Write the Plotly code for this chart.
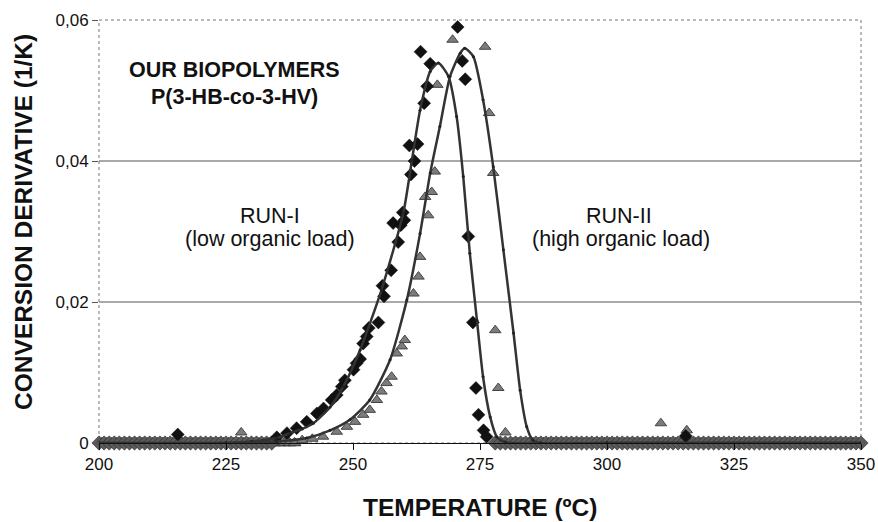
import plotly.graph_objects as go

# ---------------- data ----------------
# RUN-I experimental points (diamonds) in the peak region
RUN1_T = [235.0, 237.0, 238.9, 240.9, 242.9, 244.2, 245.8, 246.8, 247.8, 248.4, 250.1, 250.7,
          251.4, 252.0, 252.7, 253.1, 255.0, 255.8, 256.1, 257.5, 257.9, 258.9, 259.4,
          259.8, 260.1, 261.1, 261.4, 262.1, 262.7, 263.3, 264.0, 264.6, 265.2, 270.6,
          271.5, 272.1, 272.7, 273.6, 274.2, 274.7, 275.7, 276.3]
RUN1_V = [0.0008, 0.0014, 0.0021, 0.0030, 0.0042, 0.0049, 0.0061, 0.0068, 0.0080, 0.0089, 0.0104, 0.0113,
          0.0119, 0.0141, 0.0151, 0.0163, 0.0171, 0.0223, 0.0208, 0.0245, 0.0312, 0.0285, 0.0309,
          0.0327, 0.0316, 0.0422, 0.0381, 0.0400, 0.0424, 0.0555, 0.0482, 0.0506, 0.0538, 0.0590,
          0.0542, 0.0516, 0.0293, 0.0171, 0.0078, 0.0040, 0.0018, 0.0009]

# RUN-II experimental points (triangles) in the peak region
RUN2_T = [240.0, 242.0, 244.1, 246.8, 248.8, 250.4, 252.0, 253.3, 254.7, 255.6, 256.6, 257.6, 258.6,
          259.6, 260.2, 261.9, 262.9, 263.2, 264.2, 264.8, 265.5, 266.1, 266.6, 269.6,
          276.0, 276.8, 277.6, 278.0, 278.6, 280.0]
RUN2_V = [0.0004, 0.0006, 0.0009, 0.0016, 0.0023, 0.0030, 0.0040, 0.0047, 0.0061, 0.0073, 0.0085, 0.0094, 0.0127,
          0.0137, 0.0146, 0.0212, 0.0236, 0.0264, 0.0349, 0.0323, 0.0356, 0.0385, 0.0508, 0.0572,
          0.0562, 0.0468, 0.0383, 0.0160, 0.0078, 0.0015]

# baseline points (both runs sit on zero outside the peak)
BASE1_T = [t for t in range(200, 351) if t < 235 or t > 277]
BASE1_V = [0.0] * len(BASE1_T)
BASE2_T = [t + 0.5 for t in range(200, 350) if t < 239 or t > 280]
BASE2_V = [0.0] * len(BASE2_T)

# isolated small bumps on the baseline
BUMP1_T = [215.5, 315.5]
BUMP1_V = [0.0012, 0.0010]
BUMP2_T = [228.0, 310.6, 315.7]
BUMP2_V = [0.0015, 0.0028, 0.0018]

# model (fitted) curves
FIT1_T = [200, 225, 230, 235, 237.6, 240, 242.2, 245.5, 248.1, 251.4, 255.6, 259.9, 261.6, 263.2,
          265.2, 266.8, 268.8, 270.4, 271.7, 273.0, 274.4, 275.6, 277.0, 278.3, 280, 300, 350]
FIT1_V = [0, 0, 0.0002, 0.0007, 0.0014, 0.0020, 0.0028, 0.0051, 0.0080, 0.0132, 0.0217, 0.0326, 0.0401,
          0.0472, 0.0527, 0.0539, 0.0520, 0.0463, 0.0378, 0.0269, 0.0174, 0.0094, 0.0037, 0.0009,
          0.0001, 0, 0]
FIT2_T = [200, 225, 235, 240.9, 245.5, 249.4, 253.3, 257.3, 260.6, 263.2, 265.2, 267.1, 269.1, 271.1,
          272.0, 273.7, 275.6, 277.6, 279.6, 281.6, 282.9, 284.2, 285.4, 287, 300, 350]
FIT2_V = [0, 0, 0.0002, 0.0007, 0.0018, 0.0033, 0.0061, 0.0118, 0.0203, 0.0297, 0.0383, 0.0449, 0.0520,
          0.0553, 0.0560, 0.0548, 0.0487, 0.0392, 0.0274, 0.0156, 0.0075, 0.0023, 0.0004, 0, 0, 0]

X_TICKS = [200, 225, 250, 275, 300, 325, 350]
Y_TICKS = [0, 0.02, 0.04, 0.06]
Y_TICK_TEXT = ["0", "0,02", "0,04", "0,06"]
GRID_Y = [0.02, 0.04]

FONT = "Liberation Sans, Arial, sans-serif"

fig = go.Figure()

tri_style = dict(symbol="triangle-up", size=10, color="#7c7c7c", line=dict(color="#444444", width=1))
dia_style = dict(symbol="diamond", size=10, color="#111111", line=dict(color="#111111", width=0.5))

fig.add_trace(go.Scatter(x=BASE2_T, y=BASE2_V, mode="markers",
                         marker=dict(symbol="triangle-up", size=11, color="#777777", line=dict(color="#333", width=1)),
                         cliponaxis=False, showlegend=False))
fig.add_trace(go.Scatter(x=BASE1_T, y=BASE1_V, mode="markers",
                         marker=dict(symbol="diamond", size=11, color="#5a5a5a", line=dict(color="#222", width=0.5)),
                         cliponaxis=False, showlegend=False))
fig.add_trace(go.Scatter(x=RUN2_T + BUMP2_T, y=RUN2_V + BUMP2_V, mode="markers", marker=tri_style,
                         cliponaxis=False, showlegend=False))
fig.add_trace(go.Scatter(x=RUN1_T + BUMP1_T, y=RUN1_V + BUMP1_V, mode="markers", marker=dia_style,
                         cliponaxis=False, showlegend=False))

for T, V in [(FIT1_T, FIT1_V), (FIT2_T, FIT2_V)]:
    fig.add_trace(go.Scatter(x=T, y=V, mode="lines+markers",
                             line=dict(color="#333333", width=2.5, shape="spline", smoothing=0.6),
                             marker=dict(size=3, color="#222222"),
                             cliponaxis=True, showlegend=False))

shapes = []
for g in GRID_Y:
    shapes.append(dict(type="line", xref="paper", yref="y", x0=0, x1=1, y0=g, y1=g,
                       line=dict(color="#555555", width=1), layer="below"))
shapes.append(dict(type="rect", xref="paper", yref="paper", x0=0, x1=1, y0=0, y1=1,
                   line=dict(color="#777777", width=1, dash="dot"), layer="below"))

def px2T(px):
    return 200 + (px - 99) / 5.08

def py2V(py):
    return (443 - py) / 7050.0

annotations = [
    dict(x=px2T(234), y=py2V(70), text="<b>OUR BIOPOLYMERS</b>", xanchor="center", yanchor="middle",
         showarrow=False, font=dict(family=FONT, size=21.5, color="#111")),
    dict(x=px2T(234), y=py2V(97), text="<b>P(3-HB-co-3-HV)</b>", xanchor="center", yanchor="middle",
         showarrow=False, font=dict(family=FONT, size=21.5, color="#111")),
    dict(x=px2T(270), y=py2V(216), text="RUN-I", xanchor="center", yanchor="middle",
         showarrow=False, font=dict(family=FONT, size=21.5, color="#111")),
    dict(x=px2T(270), y=py2V(239), text="(low organic load)", xanchor="center", yanchor="middle",
         showarrow=False, font=dict(family=FONT, size=21.5, color="#111")),
    dict(x=px2T(619), y=py2V(216), text="RUN-II", xanchor="center", yanchor="middle",
         showarrow=False, font=dict(family=FONT, size=21.5, color="#111")),
    dict(x=px2T(621), y=py2V(239), text="(high organic load)", xanchor="center", yanchor="middle",
         showarrow=False, font=dict(family=FONT, size=21.5, color="#111")),
    dict(xref="paper", yref="paper", x=(480 - 99) / 762, y=(443 - 507) / 423,
         text="<b>TEMPERATURE (ºC)</b>", xanchor="center", yanchor="middle", showarrow=False,
         font=dict(family=FONT, size=24.5, color="#111")),
    dict(xref="paper", yref="paper", x=(23 - 99) / 762, y=(443 - 222) / 423,
         text="<b>CONVERSION DERIVATIVE (1/K)</b>", textangle=-90, xanchor="center", yanchor="middle",
         showarrow=False, font=dict(family=FONT, size=24.5, color="#111")),
]

fig.update_layout(
    width=878, height=522,
    margin=dict(l=99, r=17, t=20, b=79, autoexpand=False),
    paper_bgcolor="white", plot_bgcolor="white",
    font=dict(family=FONT, color="#111"),
    shapes=shapes, annotations=annotations,
    showlegend=False,
    xaxis=dict(range=[200, 350], tickvals=X_TICKS, ticktext=[str(t) for t in X_TICKS],
               automargin=False,
               showgrid=False, zeroline=False, showline=True, linecolor="#111", linewidth=1,
               ticks="outside", ticklen=6, tickcolor="#111",
               tickfont=dict(family=FONT, size=17, color="#111")),
    yaxis=dict(range=[0, 0.06], tickvals=Y_TICKS, ticktext=Y_TICK_TEXT,
               automargin=False,
               showgrid=False, zeroline=False, showline=False,
               ticks="outside", ticklen=6, tickcolor="#555",
               tickfont=dict(family=FONT, size=17, color="#111")),
)

fig.write_html("out.html", config={"displayModeBar": False},
               post_script="document.body.style.margin='0';document.documentElement.style.overflow='hidden';")
